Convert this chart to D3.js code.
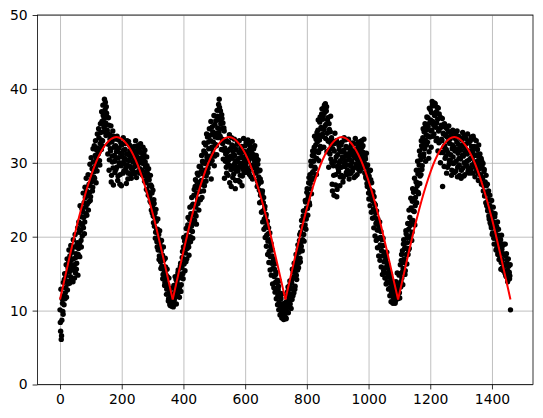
<!DOCTYPE html>
<html>
<head>
<meta charset="utf-8">
<script src="https://cdn.jsdelivr.net/npm/d3@7"></script>
<style>
  body { margin: 0; background: #fff; }
  svg text { font-family: "DejaVu Sans", sans-serif; font-size: 13.9px; fill: #000; }
</style>
</head>
<body>
<div id='chart'></div>

<script>
// daily values, even days first
year1 = [
  10.1, 7.2, 6.1, 8.7, 11.0, 9.5, 12.0, 14.2, 11.6, 13.1, 16.2, 14.0, 12.8, 15.8, 16.5,
  15.2, 17.4, 14.6, 16.8, 18.1, 15.5, 13.9, 17.0, 16.2, 18.6, 15.1, 17.7, 16.4, 19.2, 14.8,
  18.4, 20.6, 17.3, 21.8, 19.5, 22.7, 20.1, 23.4, 21.2, 24.6, 22.0, 25.3, 23.1, 26.2, 24.4,
  25.8, 23.6, 27.1, 26.0, 24.9, 28.3, 27.4, 29.2, 26.7, 30.1, 28.8, 27.9, 31.0, 29.5, 30.6,
  28.9, 32.0, 31.2, 33.4, 30.3, 32.6, 34.1, 31.8, 35.6, 33.0, 36.4, 34.8, 38.6, 37.2, 35.4,
  37.6, 36.2, 34.0, 32.5, 35.1, 30.4, 33.2, 31.6, 27.4, 32.8, 30.1, 29.3, 33.6, 31.0, 28.7,
  32.3, 30.6, 29.4, 31.8, 28.2, 33.1, 30.0, 27.1, 31.3, 29.6, 32.4, 30.8, 28.6, 31.7, 29.9,
  30.5, 32.6, 28.9, 31.2, 29.7, 27.8, 32.9, 30.3, 31.6, 28.4, 30.9, 29.2, 31.9, 30.1, 28.8,
  32.2, 29.5, 31.0, 30.4, 28.0, 31.5, 29.8, 32.0, 30.6, 28.6, 30.2, 31.4, 29.0, 30.7, 28.3,
  29.9, 31.2, 27.5, 30.1, 28.8, 26.4, 29.6, 27.9, 25.6, 28.2, 26.9, 24.8, 27.0, 23.6, 25.9,
  24.1, 22.8, 25.0, 21.4, 23.2, 20.6, 22.1, 19.3, 21.0, 18.2, 20.3, 17.4, 19.0, 16.6, 18.1,
  16.0, 17.5, 14.9, 16.8, 15.3, 13.8, 15.9, 14.2, 12.9, 14.6, 13.1, 11.6, 12.5, 10.9, 12.0, 11.2, 10.6, 11.8
]
year2 = [
  10.7, 12.3, 11.4, 13.0, 12.1, 14.2, 11.9, 13.6, 15.1, 12.8, 14.4, 13.2, 16.0, 12.6, 14.9,
  17.2, 15.0, 18.6, 16.3, 19.4, 17.8, 16.6, 20.2, 18.4, 21.6, 19.1, 17.5, 22.3, 20.0, 23.1,
  21.4, 24.2, 19.8, 23.0, 25.6, 22.2, 26.8, 24.0, 21.7, 27.4, 25.1, 28.3, 23.6, 27.0, 26.1,
  29.4, 27.6, 25.3, 30.2, 28.5, 31.6, 26.9, 29.9, 32.4, 28.2, 30.8, 33.5, 29.3, 31.9, 34.6,
  30.7, 33.0, 27.8, 32.1, 34.9, 31.3, 33.8, 29.6, 35.2, 32.5, 34.0, 31.1, 36.3, 33.4, 37.9,
  38.6, 35.8, 37.0, 34.6, 36.5, 33.2, 35.4, 31.7, 34.3, 32.0, 30.2, 33.1, 28.6, 31.5, 29.9,
  32.8, 30.4, 27.3, 31.9, 29.1, 33.4, 30.6, 28.0, 32.2, 29.7, 31.0, 26.5, 30.3, 28.9, 32.5,
  30.1, 27.6, 31.4, 29.5, 28.3, 32.0, 30.7, 26.9, 29.2, 31.6, 28.8, 30.3, 32.3, 29.8, 31.2,
  30.5, 32.6, 29.0, 31.7, 28.4, 30.9, 32.1, 29.6, 31.3, 27.8, 30.7, 31.9, 29.3, 30.0, 28.6,
  31.0, 29.2, 27.5, 30.4, 28.1, 26.3, 29.0, 25.6, 27.4, 24.8, 26.2, 23.5, 25.3, 22.4, 24.1,
  21.3, 23.0, 20.2, 22.1, 19.4, 21.2, 18.0, 20.5, 17.3, 19.1, 16.4, 18.2, 15.7, 17.0, 14.6,
  16.3, 13.8, 15.2, 12.9, 14.1, 12.0, 13.3, 11.1, 12.4, 10.3, 11.6, 9.8, 10.9, 9.3, 10.2, 9.6, 11.0, 10.1
]
year3 = [
  9.0, 11.2, 10.4, 12.6, 9.7, 11.8, 13.4, 10.9, 12.2, 14.1, 11.5, 13.0, 15.2, 12.4, 14.6,
  13.3, 16.0, 14.8, 17.2, 15.5, 18.3, 16.4, 19.5, 17.1, 20.6, 18.7, 21.4, 19.6, 22.8, 20.3,
  23.5, 21.6, 24.7, 22.4, 26.0, 23.8, 25.2, 27.3, 24.6, 28.4, 26.5, 29.6, 27.7, 31.0, 28.8,
  30.2, 32.1, 29.4, 31.5, 33.2, 30.6, 32.8, 34.4, 31.4, 33.7, 35.5, 32.2, 34.8, 36.6, 33.6,
  35.9, 37.4, 34.5, 36.8, 38.0, 35.2, 37.6, 34.0, 36.1, 32.9, 35.3, 31.8, 34.2, 30.5, 33.4,
  27.1, 31.9, 29.6, 25.6, 32.6, 30.2, 28.4, 33.0, 26.4, 31.1, 29.2, 32.3, 30.0, 28.1, 31.5,
  29.4, 32.8, 30.6, 28.0, 31.7, 29.9, 33.1, 30.3, 28.7, 31.2, 29.0, 32.0, 30.8, 28.5, 31.4,
  29.6, 32.4, 30.1, 28.9, 31.0, 29.3, 32.6, 30.7, 28.2, 31.8, 29.5, 30.4, 32.2, 29.1, 31.3,
  30.0, 32.9, 31.6, 33.0, 30.9, 32.3, 29.8, 31.2, 28.6, 30.5, 27.9, 29.4, 26.8, 28.7, 25.9,
  28.2, 26.4, 29.0, 25.6, 27.3, 24.9, 26.1, 23.7, 25.4, 22.6, 24.3, 21.8, 23.5, 20.9, 22.4,
  21.6, 19.8, 22.0, 18.9, 20.7, 18.1, 19.6, 17.4, 18.8, 16.6, 17.9, 15.8, 17.2, 15.1, 16.4,
  14.6, 15.9, 13.8, 15.2, 13.1, 14.3, 12.6, 13.5, 11.9, 13.0, 11.4, 12.3, 11.0, 12.7, 11.6, 13.2, 12.0
]
year4 = [
  11.8, 13.6, 12.4, 15.0, 13.2, 16.8, 14.4, 18.1, 15.7, 19.6, 17.0, 14.9, 18.5, 20.4, 16.3,
  19.2, 17.6, 21.0, 18.4, 22.6, 20.1, 23.9, 19.5, 24.8, 22.2, 26.0, 23.4, 21.6, 25.3, 27.4,
  24.6, 26.9, 28.5, 25.8, 29.7, 27.2, 31.0, 28.4, 32.3, 29.6, 33.4, 30.8, 34.2, 31.9, 33.1,
  35.0, 32.4, 34.5, 36.1, 33.6, 31.5, 35.4, 37.2, 34.3, 36.8, 38.3, 35.6, 37.7, 33.9, 36.4,
  38.0, 34.8, 36.9, 33.3, 35.9, 37.4, 32.7, 34.6, 36.2, 31.4, 35.1, 33.0, 26.8, 34.0, 32.1,
  35.3, 30.6, 33.7, 31.8, 34.6, 29.4, 32.9, 35.0, 30.3, 33.2, 31.1, 34.2, 29.0, 32.4, 30.8,
  33.5, 28.7, 31.6, 34.0, 30.2, 32.8, 28.1, 31.3, 33.6, 29.7, 32.0, 30.5, 27.9, 33.1, 31.0,
  29.3, 32.5, 30.0, 28.4, 31.9, 33.3, 29.6, 31.2, 28.8, 32.7, 30.4, 33.0, 31.5, 29.1, 32.2,
  30.7, 28.6, 31.8, 33.2, 30.1, 29.4, 32.0, 28.9, 31.1, 30.3, 27.6, 30.9, 29.2, 28.3, 30.0,
  27.1, 29.4, 28.0, 26.2, 28.8, 25.5, 27.4, 24.6, 26.9, 25.8, 23.5, 25.0, 22.8, 24.3, 21.9,
  23.4, 21.2, 22.6, 20.5, 24.0, 19.8, 21.7, 23.1, 19.0, 20.9, 18.4, 22.0, 17.8, 20.2, 18.9,
  17.1, 19.6, 16.5, 18.3, 15.8, 17.7, 19.0, 16.2, 15.1, 17.4, 14.6, 16.8, 15.5, 14.2, 16.0, 15.2, 14.7, 10.1
]
// odd days
year1Odd = [
  8.4, 12.9, 6.6, 11.6, 9.9, 13.8, 10.8, 15.0, 12.4, 14.7, 11.8, 17.0, 13.6, 15.4, 18.2,
  13.7, 16.3, 18.8, 14.2, 17.9, 15.9, 19.6, 16.0, 14.4, 20.3, 17.2, 15.6, 18.9, 21.2, 17.6,
  22.0, 19.1, 24.2, 20.9, 18.6, 23.8, 21.5, 25.9, 22.6, 20.4, 26.7, 24.0, 27.9, 22.9, 25.6,
  28.4, 24.7, 26.9, 29.8, 25.4, 30.7, 27.6, 26.2, 31.9, 28.1, 32.3, 29.4, 33.0, 27.3, 31.7,
  33.9, 30.0, 34.6, 31.5, 29.7, 35.3, 33.1, 36.9, 32.3, 37.8, 34.2, 36.0, 35.0, 38.2, 33.7,
  36.7, 34.4, 31.2, 36.1, 29.0, 33.8, 31.9, 35.0, 28.3, 30.9, 34.3, 27.0, 32.1, 30.2, 33.2,
  29.1, 31.5, 33.6, 27.6, 30.7, 32.0, 29.8, 28.4, 32.7, 26.9, 31.2, 30.0, 33.4, 28.9, 30.6,
  31.8, 29.3, 27.2, 33.0, 30.4, 28.6, 31.1, 32.4, 29.5, 30.8, 27.9, 32.0, 29.0, 31.4, 30.3,
  28.5, 31.6, 33.0, 29.7, 30.9, 32.3, 28.8, 30.4, 31.9, 29.2, 32.6, 30.0, 31.3, 28.4, 32.1,
  30.6, 28.2, 31.7, 29.4, 27.3, 30.8, 28.6, 26.1, 29.2, 27.7, 25.4, 28.3, 24.6, 26.8, 23.2,
  26.3, 21.9, 24.5, 22.6, 19.8, 23.7, 20.9, 18.6, 22.4, 19.7, 16.9, 20.8, 18.4, 15.7, 19.5,
  17.2, 14.3, 18.6, 15.8, 13.4, 17.1, 14.9, 12.2, 15.6, 13.5, 11.3, 14.4, 12.3, 10.7, 13.0, 11.5, 10.9
]
year2Odd = [
  11.3, 10.5, 13.4, 11.7, 14.6, 12.5, 10.9, 13.9, 12.2, 15.5, 13.1, 11.8, 14.7, 16.4, 13.5,
  15.8, 18.0, 14.3, 19.9, 16.9, 15.4, 18.9, 21.1, 17.0, 19.7, 22.6, 18.6, 20.9, 24.0, 19.3,
  22.5, 25.3, 20.7, 24.4, 21.9, 26.4, 23.2, 27.7, 22.8, 25.9, 28.6, 24.5, 26.6, 29.5, 27.2,
  25.0, 28.8, 31.0, 27.1, 30.0, 26.2, 32.7, 29.0, 31.3, 27.5, 33.9, 30.4, 28.7, 32.8, 30.9,
  33.7, 29.9, 35.6, 31.9, 30.3, 34.2, 32.8, 36.4, 30.9, 33.5, 35.7, 32.3, 37.1, 34.7, 36.0,
  34.1, 37.5, 33.6, 35.3, 31.8, 36.0, 32.6, 30.5, 34.7, 27.9, 33.0, 31.2, 29.4, 32.9, 30.8,
  28.3, 31.7, 33.8, 29.6, 30.9, 26.8, 32.4, 29.2, 31.5, 28.5, 33.2, 30.0, 27.6, 31.8, 29.4,
  32.7, 28.9, 30.6, 33.0, 27.4, 31.3, 29.9, 32.2, 28.2, 30.8, 33.3, 29.6, 31.5, 28.7, 32.8,
  29.3, 31.4, 33.1, 30.2, 28.9, 32.4, 30.6, 28.1, 31.8, 32.9, 29.7, 31.1, 30.4, 32.3, 29.9,
  28.7, 30.6, 26.8, 29.8, 27.1, 28.9, 24.6, 27.8, 26.0, 23.3, 25.8, 22.0, 24.6, 21.0, 23.7,
  19.9, 22.7, 18.7, 21.6, 17.6, 20.4, 16.5, 19.6, 15.5, 18.6, 14.8, 17.4, 13.6, 16.7, 13.1,
  15.6, 12.5, 14.9, 11.6, 13.8, 10.8, 12.9, 10.1, 14.0, 9.4, 11.8, 10.6, 9.0, 12.3, 9.9, 8.8, 10.7, 9.5
]
year3Odd = [
  10.3, 8.9, 12.0, 9.8, 13.2, 10.6, 11.4, 14.0, 12.9, 10.3, 13.7, 15.6, 12.0, 14.5, 16.4,
  12.9, 15.4, 17.6, 14.2, 16.7, 18.9, 15.8, 17.9, 20.3, 16.6, 19.3, 22.2, 18.1, 21.2, 23.5,
  19.4, 22.4, 24.9, 21.0, 23.9, 26.5, 22.9, 25.6, 28.0, 24.3, 27.2, 30.2, 25.8, 28.6, 31.6,
  27.9, 30.9, 33.6, 29.2, 32.4, 28.4, 34.1, 31.6, 35.8, 30.3, 33.1, 36.2, 31.9, 34.6, 37.3,
  33.9, 36.4, 32.1, 37.8, 35.0, 33.3, 37.0, 31.5, 35.8, 33.0, 29.4, 34.5, 31.2, 36.3, 32.5,
  30.0, 26.2, 32.9, 28.3, 31.6, 34.0, 27.0, 30.8, 25.4, 29.5, 32.7, 28.8, 31.8, 26.9, 30.3,
  32.4, 28.3, 30.8, 27.4, 31.5, 33.4, 29.5, 30.9, 32.2, 28.4, 31.0, 29.7, 33.2, 27.8, 30.4,
  31.9, 28.6, 30.3, 32.7, 29.2, 31.6, 28.0, 30.9, 33.3, 29.8, 31.2, 28.4, 30.6, 32.8, 29.6,
  31.8, 28.9, 32.6, 30.4, 32.1, 29.3, 31.4, 33.2, 29.9, 30.8, 28.1, 31.3, 27.2, 29.7, 27.8,
  25.1, 28.9, 24.2, 27.7, 23.3, 26.2, 22.5, 25.6, 21.2, 24.5, 20.1, 23.2, 19.5, 22.0, 18.5,
  20.9, 17.4, 21.3, 16.8, 19.9, 15.9, 18.7, 14.9, 19.8, 15.4, 17.6, 14.4, 16.8, 13.6, 17.9,
  13.9, 16.2, 12.9, 15.4, 12.0, 14.9, 11.2, 14.1, 12.4, 11.0, 13.6, 11.8, 12.9, 11.3, 13.9, 12.5, 15.1, 11.6
]
year4Odd = [
  12.6, 14.8, 11.7, 16.2, 13.9, 17.6, 15.2, 13.5, 19.0, 16.5, 18.4, 15.4, 20.8, 17.6, 19.9,
  21.8, 18.2, 23.6, 19.9, 21.5, 25.2, 22.0, 20.6, 26.5, 23.5, 25.0, 27.9, 24.2, 26.4, 29.0,
  27.3, 30.2, 26.0, 29.0, 31.6, 28.2, 30.4, 33.0, 29.1, 32.0, 34.6, 31.2, 32.7, 35.3, 30.2,
  33.8, 36.2, 32.8, 34.9, 30.6, 37.4, 33.5, 35.8, 32.1, 34.4, 37.9, 33.6, 35.1, 38.1, 34.9,
  36.6, 33.0, 35.4, 37.5, 31.6, 34.3, 36.6, 32.9, 30.0, 34.8, 33.2, 36.0, 31.4, 33.9, 29.5,
  32.3, 34.8, 30.9, 28.6, 33.5, 31.4, 34.2, 29.8, 32.6, 30.4, 33.7, 28.3, 31.9, 34.4, 29.9,
  32.1, 30.0, 33.3, 28.9, 31.8, 34.3, 29.4, 32.5, 30.6, 28.3, 33.4, 31.7, 29.0, 32.3, 34.1,
  30.9, 28.2, 33.6, 31.4, 29.8, 32.6, 30.2, 33.9, 29.3, 31.6, 28.6, 32.9, 30.6, 33.5, 29.7,
  31.4, 33.6, 29.8, 32.2, 28.1, 31.0, 33.0, 29.5, 31.8, 28.6, 32.4, 29.9, 31.2, 28.4, 30.6,
  30.2, 27.8, 29.9, 26.9, 29.1, 27.2, 25.8, 28.3, 24.2, 27.1, 23.9, 26.2, 22.4, 25.6, 24.0,
  21.6, 24.9, 20.3, 23.2, 22.0, 19.0, 22.7, 20.4, 18.2, 21.4, 19.6, 17.6, 21.0, 16.9, 19.4,
  18.0, 15.6, 20.2, 16.9, 18.8, 15.4, 17.6, 16.1, 19.0, 14.8, 17.7, 16.4, 13.9, 17.0, 15.0, 14.3, 16.2
]
evenValues = year1.concat(year2, year3, year4)
oddValues = year1Odd.concat(year2Odd, year3Odd, year4Odd)
evenDays = d3.range(0, 1461, 2)
oddDays = d3.range(1, 1461, 2)

// red fitted curve, one hump per year
fitDays = [
  [0, 30, 60, 90, 120, 150, 183, 215, 245, 275, 305, 335, 365.25],
  [365.25, 395, 425, 455, 485, 515, 548, 580, 610, 640, 670, 700, 730.5],
  [730.5, 761, 791, 821, 851, 881, 913, 945, 975, 1005, 1035, 1065, 1095.75],
  [1095.75, 1126, 1156, 1186, 1216, 1246, 1278, 1310, 1340, 1370, 1400, 1430, 1460]
]
fitValues = [11.5, 17.1, 22.4, 26.9, 30.4, 32.6, 33.5, 32.6, 30.4, 26.9, 22.4, 17.1, 11.5]

xTicks = [0, 200, 400, 600, 800, 1000, 1200, 1400]
yTicks = [0, 10, 20, 30, 40, 50]

width = 543
height = 418
plotLeft = 37.5
plotRight = 533
plotTop = 15
plotBottom = 384.5

x = d3.scaleLinear().domain([-73, 1533]).range([plotLeft, plotRight])
y = d3.scaleLinear().domain([0, 50]).range([plotBottom, plotTop])

points = evenValues.map((v, i) => [evenDays[i], v])
  .concat(oddValues.map((v, i) => [oddDays[i], v]))

svg = d3.select("#chart")
  .append("svg")
  .attr("width", width)
  .attr("height", height)

// grid
svg.append("g")
  .attr("transform", "translate(0," + plotBottom + ")")
  .call(d3.axisBottom(x).tickValues(xTicks).tickSize(-(plotBottom - plotTop)).tickFormat(""))
  .call(g => g.select(".domain").remove())
  .selectAll("line").attr("stroke", "#b0b0b0").attr("stroke-width", 0.8)
svg.append("g")
  .attr("transform", "translate(" + plotLeft + ",0)")
  .call(d3.axisLeft(y).tickValues(yTicks).tickSize(-(plotRight - plotLeft)).tickFormat(""))
  .call(g => g.select(".domain").remove())
  .selectAll("line").attr("stroke", "#b0b0b0").attr("stroke-width", 0.8)

// scatter
svg.append("g")
  .selectAll("circle")
  .data(points)
  .enter()
  .append("circle")
  .attr("cx", d => x(d[0]))
  .attr("cy", d => y(d[1]))
  .attr("r", 2.7)
  .attr("fill", "#000")

// fitted line
line = d3.line()
  .x(d => x(d[0]))
  .y(d => y(d[1]))
  .curve(d3.curveMonotoneX)

fitDays.forEach(function(hump) {
  svg.append("path")
    .attr("d", line(hump.map((d, i) => [d, fitValues[i]])))
    .attr("fill", "none")
    .attr("stroke", "red")
    .attr("stroke-width", 2)
})

// axes
xAxis = svg.append("g")
  .attr("transform", "translate(0," + plotBottom + ")")
  .call(d3.axisBottom(x).tickValues(xTicks).tickFormat(d3.format("d")).tickSize(4.9).tickPadding(4.9))
yAxis = svg.append("g")
  .attr("transform", "translate(" + plotLeft + ",0)")
  .call(d3.axisLeft(y).tickValues(yTicks).tickFormat(d3.format("d")).tickSize(4.9).tickPadding(4.9))

;[xAxis, yAxis].forEach(function(g) {
  g.select(".domain").remove()
  g.selectAll("line").attr("stroke", "#000").attr("stroke-width", 0.8)
  g.selectAll("text").attr("font-size", null).attr("font-family", null)
})

// frame
svg.append("rect")
  .attr("x", plotLeft)
  .attr("y", plotTop)
  .attr("width", plotRight - plotLeft)
  .attr("height", plotBottom - plotTop)
  .attr("fill", "none")
  .attr("stroke", "#000")
  .attr("stroke-width", 0.8)
</script>
</body>
</html>
